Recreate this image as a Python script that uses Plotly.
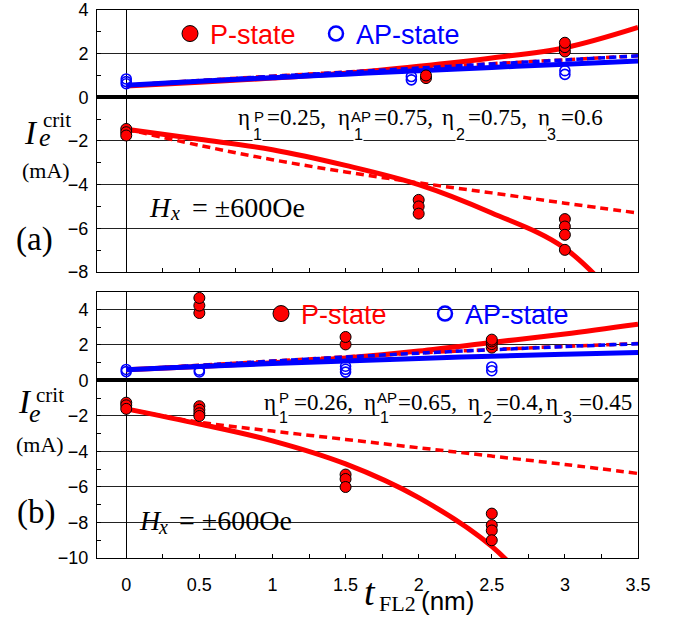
import plotly.graph_objects as go

# ---------------- data ----------------
CURVE_X = [0, 0.5, 1, 1.5, 2, 2.5, 3, 3.5]

# panel (a)
A_P_POS_SOLID = [0.52, 0.69, 0.88, 1.1, 1.42, 1.8, 2.27, 3.2]
A_P_POS_DASH = [0.55, 0.77, 0.97, 1.16, 1.35, 1.54, 1.72, 1.9]
A_AP_SOLID = [0.55, 0.73, 0.9, 1.06, 1.22, 1.37, 1.52, 1.66]
A_AP_DASH = [0.55, 0.76, 0.96, 1.15, 1.34, 1.53, 1.71, 1.9]
A_P_NEG_SOLID = [-1.46, -1.92, -2.4, -3.12, -4.0, -5.3, -6.92, -10.3]
A_P_NEG_DASH = [-1.46, -2.2, -2.86, -3.42, -3.92, -4.38, -4.85, -5.3]

A_P_X = [0, 0, 0, 2.05, 2.05, 3, 3, 3, 2, 2, 2, 3, 3, 3, 3]
A_P_Y = [-1.45, -1.6, -1.75, 0.88, 1.0, 2.1, 2.3, 2.5, -4.7, -5.0, -5.33, -5.58, -5.92, -6.3, -6.99]
A_AP_X = [0, 0, 0, 1.95, 1.95, 3, 3]
A_AP_Y = [0.62, 0.72, 0.84, 0.8, 0.95, 1.05, 1.22]

# panel (b)
B_P_POS_SOLID = [0.6, 0.79, 1.0, 1.27, 1.66, 2.14, 2.62, 3.17]
B_P_POS_DASH = [0.6, 0.86, 1.1, 1.33, 1.55, 1.74, 1.92, 2.08]
B_AP_SOLID = [0.6, 0.78, 0.95, 1.1, 1.24, 1.37, 1.48, 1.58]
B_AP_DASH = [0.6, 0.85, 1.09, 1.32, 1.54, 1.73, 1.91, 2.07]
B_P_NEG_SOLID = [-1.6, -2.45, -3.4, -4.7, -6.6, -9.35, -13.8, -19.0]
B_P_NEG_DASH = [-1.6, -2.35, -2.85, -3.32, -3.79, -4.26, -4.73, -5.24]

B_P_X = [0, 0, 0, 0.5, 0.5, 0.5, 0.5, 0.5, 0.5, 0.5, 1.5, 1.5, 1.5, 1.5, 1.5,
         2.5, 2.5, 2.5, 2.5, 2.5, 2.5, 2.5, 2.5]
B_P_Y = [-1.25, -1.4, -1.6, 3.8, 4.22, 4.65, -1.45, -1.65, -1.85, -2.0, 2.03, 2.45,
         -5.3, -5.55, -6.0, 1.85, 2.05, 2.2, 2.3, -7.5, -8.15, -8.45, -9.0]
B_AP_X = [0, 0, 0.5, 0.5, 1.5, 1.5, 1.5, 2.5, 2.5]
B_AP_Y = [0.5, 0.62, 0.48, 0.58, 0.47, 0.63, 0.8, 0.55, 0.76]

X_TICKS = [0, 0.5, 1, 1.5, 2, 2.5, 3, 3.5]
X_TICK_TEXT = ["0", "0.5", "1", "1.5", "2", "2.5", "3", "3.5"]

LEGEND_P = "P-state"
LEGEND_AP = "AP-state"

# ---------------- styling ----------------
RED = "#ff0000"
BLUE = "#0000ff"
SERIF = "Liberation Serif, Times New Roman, serif"
SANS = "Liberation Sans, Arial, sans-serif"

W, H = 681, 622
L, R, T, B = 97, 638, 10, 558


def px(x):
    return (x - L) / (R - L)


def py(y):
    return (B - y) / (B - T)


fig = go.Figure()


def add_panel(xa, ya, p_pos_s, p_pos_d, ap_s, ap_d, p_neg_s, p_neg_d, pxs, pys, apx, apy):
    common = dict(xaxis=xa, yaxis=ya, mode="lines", line_shape="spline",
                  showlegend=False, hoverinfo="skip")
    fig.add_trace(go.Scatter(x=CURVE_X, y=p_neg_s, line=dict(color=RED, width=5), **common))
    fig.add_trace(go.Scatter(x=CURVE_X, y=p_neg_d, line=dict(color=RED, width=3.5, dash="8px,5px"), **common))
    fig.add_trace(go.Scatter(x=CURVE_X, y=p_pos_s, line=dict(color=RED, width=5), **common))
    fig.add_trace(go.Scatter(x=CURVE_X, y=p_pos_d, line=dict(color=RED, width=3.5, dash="8px,5px"), **common))
    fig.add_trace(go.Scatter(x=CURVE_X, y=ap_s, line=dict(color=BLUE, width=5), **common))
    fig.add_trace(go.Scatter(x=CURVE_X, y=ap_d, line=dict(color=BLUE, width=3.5, dash="7px,4px"), **common))
    fig.add_trace(go.Scatter(x=apx, y=apy, xaxis=xa, yaxis=ya, mode="markers", showlegend=False,
                             marker=dict(symbol="circle-open", size=10, color=BLUE, line=dict(width=1.6, color=BLUE))))
    fig.add_trace(go.Scatter(x=pxs, y=pys, xaxis=xa, yaxis=ya, mode="markers", showlegend=False,
                             marker=dict(symbol="circle", size=11, color=RED, line=dict(width=1, color="black"))))


add_panel("x", "y", A_P_POS_SOLID, A_P_POS_DASH, A_AP_SOLID, A_AP_DASH, A_P_NEG_SOLID, A_P_NEG_DASH,
          A_P_X, A_P_Y, A_AP_X, A_AP_Y)
add_panel("x2", "y2", B_P_POS_SOLID, B_P_POS_DASH, B_AP_SOLID, B_AP_DASH, B_P_NEG_SOLID, B_P_NEG_DASH,
          B_P_X, B_P_Y, B_AP_X, B_AP_Y)

# legend entries (one legend per panel)
for lg, xa, ya in (("legend", "x", "y"), ("legend2", "x2", "y2")):
    fig.add_trace(go.Scatter(x=[None], y=[None], xaxis=xa, yaxis=ya, mode="markers", legend=lg,
                             name='<span style="color:%s">%s</span>' % (RED, LEGEND_P),
                             marker=dict(symbol="circle", size=16, color=RED, line=dict(width=1, color="black"))))
    fig.add_trace(go.Scatter(x=[None], y=[None], xaxis=xa, yaxis=ya, mode="markers", legend=lg,
                             name='<span style="color:%s">%s</span>' % (BLUE, LEGEND_AP),
                             marker=dict(symbol="circle-open", size=14, color=BLUE, line=dict(width=2.5, color=BLUE))))

top_dom = [py(271.9), 1]
bot_dom = [0, py(291.7)]

xcommon = dict(range=[-0.2, 3.5], tickvals=X_TICKS, ticktext=X_TICK_TEXT, ticks="inside", ticklen=4,
               tickcolor="black", minor=dict(dtick=0.25, tick0=0, ticks="inside", ticklen=4, tickcolor="black"),
               showgrid=False, zeroline=True, zerolinecolor="black", zerolinewidth=1,
               showline=True, linecolor="black", linewidth=1, mirror=True,
               tickfont=dict(family=SANS, size=18, color="black"), domain=[0, 1])
ycommon = dict(dtick=2, tick0=0, ticks="inside", ticklen=4, tickcolor="black",
               minor=dict(dtick=1, tick0=0, ticks="inside", ticklen=4, tickcolor="black", showgrid=False),
               showgrid=True, gridcolor="#222", gridwidth=1,
               zeroline=True, zerolinecolor="black", zerolinewidth=4,
               showline=True, linecolor="black", linewidth=1, mirror=True,
               tickfont=dict(family=SANS, size=18, color="black"), ticklabelstandoff=4)

fig.update_layout(
    width=W, height=H, margin=dict(l=L, r=W - R, t=T, b=H - B, autoexpand=False),
    paper_bgcolor="white", plot_bgcolor="white",
    xaxis=dict(anchor="y", showticklabels=False, **xcommon),
    yaxis=dict(anchor="x", domain=top_dom, range=[-8, 4], **ycommon),
    xaxis2=dict(anchor="y2", showticklabels=True, ticklabelstandoff=10, **xcommon),
    yaxis2=dict(anchor="x2", domain=bot_dom, range=[-10, 5], **ycommon),
    legend=dict(orientation="h", x=px(170), xanchor="left", y=py(34), yanchor="middle",
                font=dict(family=SANS, size=27), bgcolor="rgba(0,0,0,0)", borderwidth=0,
                entrywidth=101, itemwidth=30, tracegroupgap=0),
    legend2=dict(orientation="h", x=px(261), xanchor="left", y=py(314), yanchor="middle",
                 font=dict(family=SANS, size=27), bgcolor="rgba(0,0,0,0)", borderwidth=0,
                 entrywidth=119, itemwidth=30, tracegroupgap=0),
)

ann = []


def txt(s, x, y, size, family=SERIF, xanchor="left", bg=None):
    d = dict(text=s, x=px(x), y=py(y), xref="paper", yref="paper", xanchor=xanchor, yanchor="middle",
             showarrow=False, font=dict(family=family, size=size, color="black"), borderpad=0)
    if bg:
        d["bgcolor"] = bg
    ann.append(d)


# y-axis titles
txt("<i>I</i>", 31, 133, 33, xanchor="center")
txt("crit", 42, 120, 21)
txt("<i>e</i>", 38, 137, 26)
txt("(mA)", 46, 171, 22, xanchor="center")
txt("<i>I</i>", 25, 402, 33, xanchor="center")
txt("crit", 35, 395, 21)
txt("<i>e</i>", 28, 413, 26)
txt("(mA)", 40, 445, 22, xanchor="center")

# panel labels
txt("(a)", 34, 239, 33, xanchor="center")
txt("(b)", 36, 512, 33, xanchor="center")

# x-axis title
txt("<i>t</i>", 370, 592, 38, xanchor="center")
txt("FL2", 378, 603, 22)
txt("(nm)", 420, 601, 26, family=SANS)

# H_x annotations
shapes = []


def white_box(x0, y0, x1, y1):
    shapes.append(dict(type="rect", xref="paper", yref="paper", x0=px(x0), x1=px(x1), y0=py(y1), y1=py(y0),
                       fillcolor="white", line=dict(width=0), layer="between"))


white_box(143, 195, 306, 232)
txt("<i>H</i>", 148, 207, 28)
txt("<i>x</i>", 169, 213, 20)
txt("= ±600Oe", 191, 207, 28)

white_box(130, 508, 295, 540)
txt("<i>H</i>", 138, 520, 28)
txt("<i>x</i>", 157, 527, 20)
txt("= ±600Oe", 178, 520, 28)

# eta parameter texts
MAIN, SUB, SUP = 23, 16, 15


def eta_line(etas, subs, sups, vals, ym, ysub, ysup):
    for ex, (sx, st), sp, (vx, vt) in zip(etas, subs, sups, vals):
        txt("η", ex, ym, MAIN)
        txt(st, sx, ysub, SUB, family=SANS, bg="white")
        if sp:
            txt(sp[1], sp[0], ysup, SUP, family=SANS)
        txt(vt, vx, ym, MAIN)


eta_line([237, 337, 441, 536.5],
         [(252, "1"), (353, "1"), (455, "2"), (546, "3")],
         [(253, "P"), (350, "AP"), None, None],
         [(266, "=0.25,"), (373, "=0.75,"), (467, "=0.75,"), (560, "=0.6")],
         117.5, 134.5, 116.5)

white_box(261, 390, 634, 425)
eta_line([263, 363, 467, 545],
         [(278, "1"), (379, "1"), (482, "2"), (562, "3")],
         [(278, "P"), (376, "AP"), None, None],
         [(293, "=0.26,"), (397, "=0.65,"), (495, "=0.4,"), (578, "=0.45")],
         402.5, 417.5, 397)

fig.update_layout(annotations=ann, shapes=shapes)
fig.write_html("out.html", config={"displayModeBar": False},
               post_script="document.body.style.margin='0px';document.body.style.padding='0px';")
